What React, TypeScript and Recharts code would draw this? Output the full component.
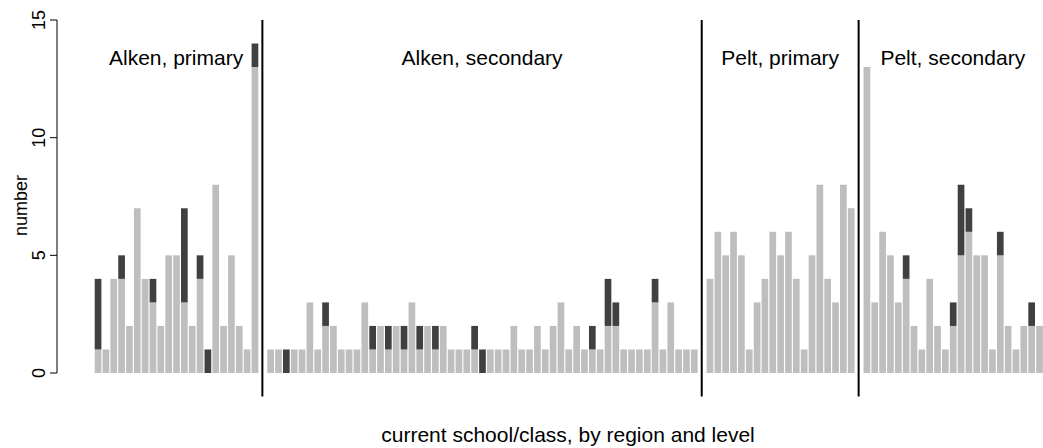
import { BarChart, Bar, XAxis, YAxis, ReferenceLine, ReferenceArea } from 'recharts';

// counts per class, light = first part of the stack, dark = second part
const alkenPrimaryLight = [1, 1, 4, 4, 2, 7, 4, 3, 2, 5, 5, 3, 2, 4, 0, 8, 2, 5, 2, 1, 13];
const alkenPrimaryDark = [3, 0, 0, 1, 0, 0, 0, 1, 0, 0, 0, 4, 0, 1, 1, 0, 0, 0, 0, 0, 1];

const alkenSecondaryLight = [
  1, 1, 0, 1, 1, 3, 1, 2, 2, 1, 1, 1, 3, 1, 2, 1, 2, 1, 3, 1, 2, 1, 2, 1, 1, 1, 1, 0,
  1, 1, 1, 2, 1, 1, 2, 1, 2, 3, 1, 2, 1, 1, 1, 2, 2, 1, 1, 1, 1, 3, 1, 3, 1, 1, 1,
];
const alkenSecondaryDark = [
  0, 0, 1, 0, 0, 0, 0, 1, 0, 0, 0, 0, 0, 1, 0, 1, 0, 1, 0, 1, 0, 1, 0, 0, 0, 0, 1, 1,
  0, 0, 0, 0, 0, 0, 0, 0, 0, 0, 0, 0, 0, 1, 0, 2, 1, 0, 0, 0, 0, 1, 0, 0, 0, 0, 0,
];

const peltPrimaryLight = [4, 6, 5, 6, 5, 1, 3, 4, 6, 5, 6, 4, 1, 5, 8, 4, 3, 8, 7];
const peltPrimaryDark = [0, 0, 0, 0, 0, 0, 0, 0, 0, 0, 0, 0, 0, 0, 0, 0, 0, 0, 0];

const peltSecondaryLight = [13, 3, 6, 5, 3, 4, 2, 1, 4, 2, 1, 2, 5, 6, 5, 5, 1, 5, 2, 1, 2, 2, 2];
const peltSecondaryDark = [0, 0, 0, 0, 0, 1, 0, 0, 0, 0, 0, 1, 3, 1, 0, 0, 0, 1, 0, 0, 0, 1, 0];

const groupKeys = ['AP', 'AS', 'PP', 'PS'];
const groupLabels = ['Alken, primary', 'Alken, secondary', 'Pelt, primary', 'Pelt, secondary'];
const yTicks = [0, 5, 10, 15];

const groups = [
  { key: groupKeys[0], light: alkenPrimaryLight, dark: alkenPrimaryDark },
  { key: groupKeys[1], light: alkenSecondaryLight, dark: alkenSecondaryDark },
  { key: groupKeys[2], light: peltPrimaryLight, dark: peltPrimaryDark },
  { key: groupKeys[3], light: peltSecondaryLight, dark: peltSecondaryDark },
];

// one empty slot between groups, the divider sits in it
const rows: { id: string; light?: number; dark?: number }[] = [];
groups.forEach((g, gi) => {
  if (gi > 0) rows.push({ id: `sep${gi}` });
  g.light.forEach((v, i) => rows.push({ id: `${g.key}${i + 1}`, light: v, dark: g.dark[i] }));
});

const FONT = '"Liberation Sans", Arial, Helvetica, sans-serif';

const YTick = (props: any) => {
  const { x, y, payload } = props;
  const tx = x - 3;
  return (
    <text x={tx} y={y} transform={`rotate(-90, ${tx}, ${y})`} textAnchor="middle" fontSize={18} fill="#000" fontFamily={FONT}>
      {payload.value}
    </text>
  );
};

const YTitle = (props: any) => {
  const { viewBox } = props;
  const cx = viewBox.x + 27;
  const cy = viewBox.y + viewBox.height / 2 + 9;
  return (
    <text x={cx} y={cy} transform={`rotate(-90, ${cx}, ${cy})`} textAnchor="middle" fontSize={18} fill="#000" fontFamily={FONT}>
      number
    </text>
  );
};

export default function App() {
  return (
    <div style={{ position: 'absolute', left: 0, top: 0, fontFamily: FONT }}>
      <BarChart
        width={1043}
        height={448}
        data={rows}
        margin={{ top: 20, right: 0, bottom: 0, left: 0 }}
        barSize={6.7}
      >
        <XAxis
          dataKey="id"
          height={75}
          axisLine={false}
          tickLine={false}
          tick={false}
          padding={{ left: 36.7, right: 0 }}
          label={{
            value: 'current school/class, by region and level',
            position: 'insideBottom',
            offset: 6,
            dx: 18,
            fontSize: 21,
            fill: '#000',
          }}
        />
        <YAxis
          width={57}
          domain={[0, 15]}
          ticks={yTicks}
          interval={0}
          tickSize={7}
          axisLine={{ stroke: '#000' }}
          tickLine={{ stroke: '#000' }}
          tick={<YTick />}
          label={<YTitle />}
        />
        {groups.map((g, gi) => (
          <ReferenceArea
            key={g.key}
            x1={`${g.key}1`}
            x2={`${g.key}${g.light.length}`}
            fill="none"
            fillOpacity={0}
            stroke="none"
            ifOverflow="visible"
            label={{ value: groupLabels[gi], position: 'insideTop', offset: 30, fontSize: 21, fill: '#000' }}
          />
        ))}
        <Bar dataKey="light" stackId="s" fill="#BEBEBE" isAnimationActive={false} />
        <Bar dataKey="dark" stackId="s" fill="#404040" isAnimationActive={false} />
        {[1, 2, 3].map((n) => (
          <ReferenceLine
            key={n}
            segment={[
              { x: `sep${n}`, y: 15 },
              { x: `sep${n}`, y: -1 },
            ]}
            stroke="#000"
            strokeWidth={2}
            ifOverflow="visible"
          />
        ))}
      </BarChart>
    </div>
  );
}
